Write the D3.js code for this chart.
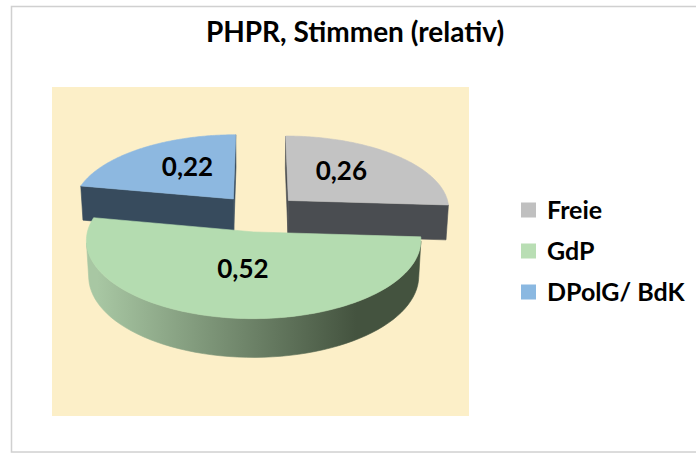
<!DOCTYPE html>
<html><head><meta charset="utf-8">
<script src="https://cdn.jsdelivr.net/npm/d3@7"></script>
<style>body{margin:0;background:#fff}</style>
</head><body>
<svg id="c" width="696" height="454"></svg>
<script>
// ---- data ----
const categories = ["Freie", "GdP", "DPolG/ BdK"];
const values = [0.26, 0.52, 0.22];
const valueLabels = ["0,26", "0,52", "0,22"];
const title = "PHPR, Stimmen (relativ)";
// ---- styles ----
const topColors = ["#c3c3c3", "#b4dcb0", "#8db8e0"];
const sideColors = ["#4a4d51", "#5f7a5a", "#374b5d"];
const sideLight = ["#6a6d71", "#a8c7a3", "#4d6479"];
const sideDark = ["#45484c", "#44533f", "#33475a"];
const legendColors = ["#c0c0c0", "#b9deb4", "#8ab8e1"];

const W = 696, H = 454;
const svg = d3.select("#c");
svg.append("rect").attr("width", W).attr("height", H).attr("fill", "#fff");
svg.append("rect").attr("x", 11.5).attr("y", 6.5).attr("width", 720).attr("height", 445.5)
  .attr("fill", "#fff").attr("stroke", "#d0d0d0").attr("stroke-width", 1.5);
svg.append("rect").attr("x", 52).attr("y", 87).attr("width", 417).attr("height", 329).attr("fill", "#fcefc8");

svg.append("text").attr("x", 355).attr("y", 42).attr("text-anchor", "middle")
  .attr("font-family", "Lato").attr("font-weight", "bold").attr("font-size", 28).attr("fill", "#000")
  .text(title);

// ---- 3D projection ----
const phi = 27 * Math.PI / 180, sinP = Math.sin(phi), cosP = Math.cos(phi);
const dist = 1400, cx = 259, cy = 213, R = 162, explode = 41, depth = 40;
function proj(x, y, z) {
  const yv = y * sinP + z * cosP;
  const zv = y * cosP - z * sinP;
  const k = dist / (dist + zv);
  return [cx + x * k, cy - yv * k];
}
const cam = [0, -dist * cosP, dist * sinP];
function visible(n, p) {
  return n[0] * (cam[0] - p[0]) + n[1] * (cam[1] - p[1]) + n[2] * (cam[2] - p[2]) > 0;
}

const pie = d3.pie().sort(null).value(d => d)(values);
const defs = svg.append("defs");
const line = d3.line();
const N = 120;

const slices = pie.map((a, i) => {
  const mid = (a.startAngle + a.endAngle) / 2;
  return { a, i, mid, ox: explode * Math.sin(mid), oy: explode * Math.cos(mid) };
});
slices.sort((s, t) => t.oy - s.oy);

const g = svg.append("g");
slices.forEach(s => {
  const { a, i, ox, oy } = s;
  const a0 = a.startAngle, a1 = a.endAngle;
  const P = (ang, r, z) => [ox + r * Math.sin(ang), oy + r * Math.cos(ang), z];
  const grad = defs.append("linearGradient").attr("id", "sg" + i)
    .attr("gradientUnits", "userSpaceOnUse").attr("x1", cx - R).attr("x2", cx + R).attr("y1", 0).attr("y2", 0);
  grad.append("stop").attr("offset", 0).attr("stop-color", sideLight[i]);
  grad.append("stop").attr("offset", 0.8).attr("stop-color", sideDark[i]);
  grad.append("stop").attr("offset", 1).attr("stop-color", sideDark[i]);

  // outer curved side: visible ranges
  let run = [];
  const runs = [];
  for (let j = 0; j < N; j++) {
    const u = a0 + (a1 - a0) * j / N, v = a0 + (a1 - a0) * (j + 1) / N, m = (u + v) / 2;
    const vis = visible([Math.sin(m), Math.cos(m), 0], P(m, R, -depth / 2));
    if (vis) { if (!run.length) run.push(u); run[1] = v; }
    else if (run.length) { runs.push(run); run = []; }
  }
  if (run.length) runs.push(run);
  runs.forEach(([u, v]) => {
    const pts = [];
    for (let j = 0; j <= 60; j++) { const t = u + (v - u) * j / 60; pts.push(proj(...P(t, R, 0))); }
    for (let j = 60; j >= 0; j--) { const t = u + (v - u) * j / 60; pts.push(proj(...P(t, R, -depth))); }
    g.append("path").attr("d", line(pts) + "Z").attr("fill", `url(#sg${i})`)
      .attr("stroke", `url(#sg${i})`).attr("stroke-width", 0.6);
  });

  // radial faces
  const faces = [
    { ang: a0, n: [-Math.cos(a0), Math.sin(a0), 0] },
    { ang: a1, n: [Math.cos(a1), -Math.sin(a1), 0] }
  ];
  faces.forEach(f => {
    if (!visible(f.n, P(f.ang, R / 2, -depth / 2))) return;
    const pts = [P(f.ang, 0, 0), P(f.ang, R, 0), P(f.ang, R, -depth), P(f.ang, 0, -depth)].map(p => proj(...p));
    g.append("path").attr("d", line(pts) + "Z").attr("fill", sideColors[i])
      .attr("stroke", sideColors[i]).attr("stroke-width", 0.6);
  });

  // top face
  const tp = [proj(...P(0, 0, 0))];
  for (let j = 0; j <= N; j++) { const t = a0 + (a1 - a0) * j / N; tp.push(proj(...P(t, R, 0))); }
  s.topPts = tp;
  g.append("path").attr("d", line(tp) + "Z").attr("fill", topColors[i])
    .attr("stroke", topColors[i]).attr("stroke-width", 0.6);
});

// labels: x along the mid-angle ray, y at the middle of the top face's extent
slices.forEach(s => {
  const [x] = proj(s.ox + 0.48 * R * Math.sin(s.mid), s.oy + 0.48 * R * Math.cos(s.mid), 0);
  const ys = d3.extent(s.topPts, p => p[1]);
  const y = (ys[0] + ys[1]) / 2;
  svg.append("text").attr("x", x).attr("y", y + 9.4).attr("text-anchor", "middle")
    .attr("font-family", "Lato").attr("font-weight", "bold").attr("font-size", 26).attr("fill", "#000")
    .text(valueLabels[s.i]);
});

// legend
const lg = svg.append("g");
categories.forEach((c, i) => {
  const yc = 210 + i * 41;
  lg.append("rect").attr("x", 521).attr("y", yc - 7.5).attr("width", 15).attr("height", 15).attr("fill", legendColors[i]);
  lg.append("text").attr("x", 547).attr("y", yc + 8.5).attr("font-family", "Lato").attr("font-weight", "bold")
    .attr("font-size", 25).attr("fill", "#000").text(c);
});
</script>
</body></html>
